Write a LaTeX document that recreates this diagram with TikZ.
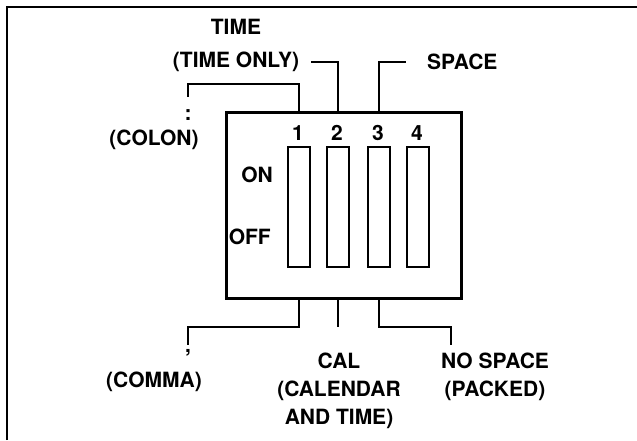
\documentclass[tikz,border=0pt]{standalone}
\usepackage{fontspec}
\setmainfont{TeX Gyre Heros}
\begin{document}
\begin{tikzpicture}[x=1pt,y=-1pt,
  lbl/.style={font=\fontsize{21}{28}\selectfont\bfseries,inner sep=0pt,align=center},
  lead/.style={line width=2.5pt},
  sw/.style={line width=2pt}]
\useasboundingbox (0,0) rectangle (637,440);
% frame
\draw[line width=1.5pt] (7,440)--(7,7)--(637,7);
% switch body
\draw[line width=3pt] (226,112) rectangle (461,298);
\foreach \x/\n in {299/1,338/2,379/3,418/4} {
  \draw[sw] (\x-11,147) rectangle (\x+11,267);
  \node[lbl] (num\n) at (\x-1,133) {\n};
  \coordinate (up\n) at (\x,112);
  \coordinate (dn\n) at (\x,298);
}
\node[lbl,anchor=east] (on) at (273,175) {ON};
\node[lbl,anchor=east] (off) at (271,237) {OFF};
% labels above
\node[lbl] (time) at (236,27) {TIME};
\node[lbl] (timeonly) at (236,62) {(TIME ONLY)};
\node[lbl,anchor=west] (space) at (427,62) {SPACE};
\node[lbl] (colon) at (188,115) {:};
\node[lbl] (colonname) at (154,140) {(COLON)};
% labels below
\node[lbl] (comma) at (188,353) {,};
\node[lbl] (commaname) at (154,382) {(COMMA)};
\node[lbl] (cal) at (339,391) {CAL\\(CALENDAR\\AND TIME)};
\node[lbl] (nospace) at (495,377) {NO SPACE\\(PACKED)};
% leaders
\coordinate (colonend) at (188,97);
\coordinate (timeend) at (311,62);
\coordinate (spaceend) at (406,62);
\coordinate (commaend) at (188,345);
\coordinate (calend) at (338,327);
\coordinate (nospaceend) at (451,345);
\draw[lead] (up1) |- (188,84) -- (colonend);
\draw[lead] (up2) |- (timeend);
\draw[lead] (up3) |- (spaceend);
\draw[lead] (dn1) |- (188,327) -- (commaend);
\draw[lead] (dn2) -- (calend);
\draw[lead] (dn3) |- (451,327) -- (nospaceend);
\end{tikzpicture}
\end{document}
